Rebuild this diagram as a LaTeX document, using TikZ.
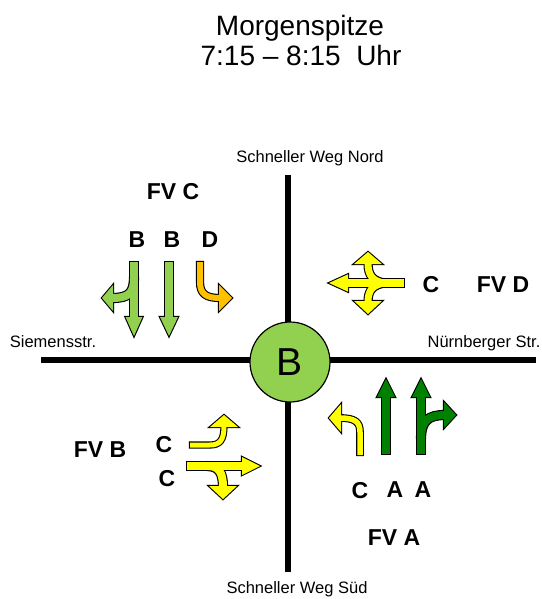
\documentclass[tikz,border=0pt]{standalone}
\usepackage{fontspec}
\setmainfont{Liberation Sans}
\definecolor{lgreen}{HTML}{92D050}
\definecolor{dgreen}{HTML}{008000}
\definecolor{ayellow}{HTML}{FFFF00}
\definecolor{aorange}{HTML}{FFC000}
\tikzset{
  road/.style={line width=5.5pt},
  title/.style={font=\fontsize{28}{32}\selectfont, inner sep=0pt},
  street/.style={font=\fontsize{16.5}{19}\selectfont, inner sep=0pt},
  lbl/.style={font=\fontsize{23}{27}\selectfont\bfseries, inner sep=0pt},
  % outline pass and fill pass for the block arrows
  sh-o/.style 2 args={draw=black, line width=#2pt+2.2pt, shorten <=-1.1pt},
  sh-f/.style 2 args={draw=#1, line width=#2pt},
  hd-o/.style={fill=black, draw=black, line width=2.2pt, line join=miter},
  hd-f/.style={fill=#1, draw=none},
}
% arrow head: style, tip x, tip y, direction, length, half width
\newcommand\ahead[6]{\path[#1, shift={(#2,#3)}, rotate=#4] (0,0) -- (-#5,#6) -- (-#5,-#6) -- cycle;}
% all lane arrows; #1 = o (outline) or f (fill)
\newcommand\lanearrows[1]{%
  % from the north
  \draw[sh-#1={lgreen}{8}] (134,262) -- (134,318);
  \draw[sh-#1={lgreen}{8}] (134,278) .. controls (134,293) and (129,298) .. (112,298);
  \ahead{hd-#1=lgreen}{102}{298}{180}{11}{13}
  \ahead{hd-#1=lgreen}{134}{336}{-90}{19}{8.5}
  \draw[sh-#1={lgreen}{8}] (169,262) -- (169,318);
  \ahead{hd-#1=lgreen}{169}{336}{-90}{19}{9}
  \draw[sh-#1={aorange}{6}] (200,262) -- (200,282) .. controls (200,294) and (206,298) .. (220,298);
  \ahead{hd-#1=aorange}{232}{298}{0}{13}{13}
  % from the east
  \draw[sh-#1={ayellow}{8}] (404,283) -- (347,283);
  \draw[sh-#1={ayellow}{7}] (384,283) .. controls (373,281) and (368,276) .. (368,263);
  \draw[sh-#1={ayellow}{7}] (384,283) .. controls (373,285) and (368,290) .. (368,302);
  \ahead{hd-#1=ayellow}{329}{283}{180}{19}{8.7}
  \ahead{hd-#1=ayellow}{368}{252}{90}{12}{14}
  \ahead{hd-#1=ayellow}{368}{314}{-90}{13}{14}
  % from the west
  \draw[sh-#1={ayellow}{8}] (187,466) -- (243,466);
  \draw[sh-#1={ayellow}{8}] (208,466) .. controls (219,466) and (223,473) .. (223,487);
  \draw[sh-#1={ayellow}{5}] (190,445) -- (210,445) .. controls (220,445) and (224,440) .. (224,426);
  \ahead{hd-#1=ayellow}{260}{466}{0}{18}{9}
  \ahead{hd-#1=ayellow}{224}{415}{90}{12}{14}
  \ahead{hd-#1=ayellow}{223}{499}{-90}{13}{14}
  % from the south
  \draw[sh-#1={ayellow}{5.5}] (360,455) -- (360,432) .. controls (360,422) and (355,418) .. (340,418);
  \ahead{hd-#1=ayellow}{329}{418}{180}{12}{14}
  \draw[sh-#1={dgreen}{8}] (386,454) -- (386,396);
  \ahead{hd-#1=dgreen}{386}{379}{90}{18}{9}
  \draw[sh-#1={dgreen}{8}] (421,454) -- (421,396);
  \draw[sh-#1={dgreen}{8}] (421,438) .. controls (421,421) and (428,415) .. (445,415);
  \ahead{hd-#1=dgreen}{421}{379}{90}{18}{9}
  \ahead{hd-#1=dgreen}{456}{415}{0}{12}{13}
}
\begin{document}
\begin{tikzpicture}[x=1pt, y=-1pt]
  \path[use as bounding box, fill=white] (0,0) rectangle (541,599);

  % heading
  \node[title, anchor=base] (t1) at (300,36) {Morgenspitze};
  \node[title, anchor=base] (t2) at (301,66) {7:15 – 8:15\ \ Uhr};

  % roads
  \coordinate (rw) at (41,360);
  \coordinate (re) at (536,360);
  \coordinate (rn) at (288,175);
  \coordinate (rs) at (288,572);
  \draw[road] (rw) -- (re);
  \draw[road] (rn) -- (rs);

  % junction
  \node[circle, draw, fill=lgreen, line width=1.2pt, minimum size=80pt, inner sep=0pt,
        font=\fontsize{39}{44}\selectfont] (ctr) at (290,362) {B};

  % street names
  \node[street, anchor=base] (nord) at (310,162) {Schneller Weg Nord};
  \node[street, anchor=base] (sued) at (297,593) {Schneller Weg Süd};
  \node[street, anchor=base] (west) at (53,347) {Siemensstr.};
  \node[street, anchor=base] (ost) at (484,347) {Nürnberger Str.};

  % lane arrows
  \lanearrows{o}
  \lanearrows{f}

  % signal group labels
  \node[lbl, anchor=base] (fvc) at (173,199) {FV C};
  \node[lbl, anchor=base] (nb1) at (137,247) {B};
  \node[lbl, anchor=base] (nb2) at (172,247) {B};
  \node[lbl, anchor=base] (nd) at (210,247) {D};
  \node[lbl, anchor=base] (ec) at (431,292) {C};
  \node[lbl, anchor=base] (fvd) at (503,292) {FV D};
  \node[lbl, anchor=base] (fvb) at (100,457) {FV B};
  \node[lbl, anchor=base] (wc1) at (164,452) {C};
  \node[lbl, anchor=base] (wc2) at (167,486) {C};
  \node[lbl, anchor=base] (sc) at (360,498) {C};
  \node[lbl, anchor=base] (sa1) at (395,497) {A};
  \node[lbl, anchor=base] (sa2) at (423,497) {A};
  \node[lbl, anchor=base] (fva) at (394,545) {FV A};
\end{tikzpicture}
\end{document}
